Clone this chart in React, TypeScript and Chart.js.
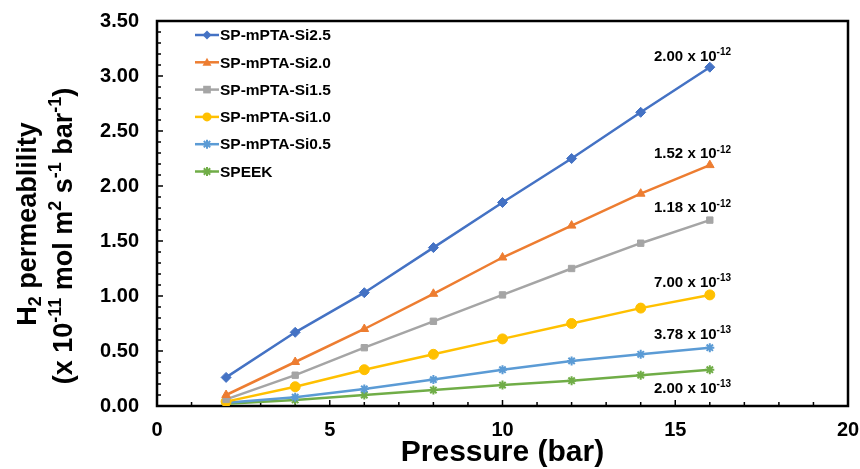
import React, { useEffect, useRef } from "react";
import { Chart, registerables } from "chart.js";

Chart.register(...registerables);

// ---------- data ----------
const pressures = [2, 4, 6, 8, 10, 12, 14, 16];
const si25 = [0.26, 0.67, 1.03, 1.44, 1.85, 2.25, 2.67, 3.08];
const si20 = [0.1, 0.4, 0.7, 1.02, 1.35, 1.64, 1.93, 2.19];
const si15 = [0.06, 0.28, 0.53, 0.77, 1.01, 1.25, 1.48, 1.69];
const si10 = [0.04, 0.175, 0.33, 0.47, 0.61, 0.75, 0.89, 1.01];
const si05 = [0.03, 0.08, 0.155, 0.24, 0.33, 0.41, 0.47, 0.53];
const speek = [0.02, 0.055, 0.1, 0.145, 0.19, 0.23, 0.28, 0.33];

const seriesNames = [
  "SP-mPTA-Si2.5",
  "SP-mPTA-Si2.0",
  "SP-mPTA-Si1.5",
  "SP-mPTA-Si1.0",
  "SP-mPTA-Si0.5",
  "SPEEK",
];
const seriesValues = [si25, si20, si15, si10, si05, speek];
const seriesColors = ["#4472C4", "#ED7D31", "#A5A5A5", "#FFC000", "#5B9BD5", "#70AD47"];
const seriesMarkers = ["rectRot", "triangle", "rect", "circle", "star", "star"];
const seriesMarkerRadius = [5, 5, 4.5, 5, 4.5, 4.5];

const annotationMantissa = ["2.00", "1.52", "1.18", "7.00", "3.78", "2.00"];
const annotationExponent = ["-12", "-12", "-12", "-13", "-13", "-13"];
const annotationYValue = [3.19, 2.3, 1.81, 1.13, 0.66, 0.17];
const annotationXValue = 15.5;

const xMin = 0, xMax = 20, xMajor = 5, xMinor = 1;
const yMin = 0, yMax = 3.5, yMajor = 0.5, yMinor = 0.1;

const xTitle = "Pressure (bar)";
type Part = { t: string; m: "n" | "sup" | "sub" };
const yTitleLine1: Part[] = [
  { t: "H", m: "n" },
  { t: "2", m: "sub" },
  { t: " permeablility", m: "n" },
];
const yTitleLine2: Part[] = [
  { t: "(x 10", m: "n" },
  { t: "-11", m: "sup" },
  { t: " mol m", m: "n" },
  { t: "2", m: "sup" },
  { t: " s", m: "n" },
  { t: "-1", m: "sup" },
  { t: " bar", m: "n" },
  { t: "-1", m: "sup" },
  { t: ")", m: "n" },
];

const FONT = "'Liberation Sans', Arial, Helvetica, sans-serif";

function drawRich(ctx: CanvasRenderingContext2D, parts: Part[], size: number, cx: number, cy: number, rot: number) {
  const small = Math.round(size * 0.65);
  const widths = parts.map((p) => {
    ctx.font = `bold ${p.m === "n" ? size : small}px ${FONT}`;
    return ctx.measureText(p.t).width;
  });
  const total = widths.reduce((a, b) => a + b, 0);
  ctx.save();
  ctx.translate(cx, cy);
  ctx.rotate(rot);
  ctx.textBaseline = "alphabetic";
  ctx.textAlign = "left";
  ctx.fillStyle = "#000";
  let x = -total / 2;
  const base = size * 0.36;
  parts.forEach((p, i) => {
    ctx.font = `bold ${p.m === "n" ? size : small}px ${FONT}`;
    let dy = 0;
    if (p.m === "sup") dy = -size * 0.38;
    if (p.m === "sub") dy = size * 0.2;
    ctx.fillText(p.t, x, base + dy);
    x += widths[i];
  });
  ctx.restore();
}

function drawMarker(ctx: CanvasRenderingContext2D, style: string, x: number, y: number, r: number, color: string) {
  ctx.save();
  ctx.fillStyle = color;
  ctx.strokeStyle = color;
  ctx.lineWidth = 2;
  ctx.beginPath();
  if (style === "rectRot") {
    ctx.moveTo(x, y - r);
    ctx.lineTo(x + r, y);
    ctx.lineTo(x, y + r);
    ctx.lineTo(x - r, y);
    ctx.closePath();
    ctx.fill();
  } else if (style === "triangle") {
    ctx.moveTo(x, y - r);
    ctx.lineTo(x + r, y + r * 0.75);
    ctx.lineTo(x - r, y + r * 0.75);
    ctx.closePath();
    ctx.fill();
  } else if (style === "rect") {
    ctx.rect(x - r * 0.85, y - r * 0.85, r * 1.7, r * 1.7);
    ctx.fill();
  } else if (style === "circle") {
    ctx.arc(x, y, r, 0, Math.PI * 2);
    ctx.fill();
  } else {
    for (let k = 0; k < 4; k++) {
      const a = (k * Math.PI) / 4;
      ctx.moveTo(x - Math.cos(a) * r, y - Math.sin(a) * r);
      ctx.lineTo(x + Math.cos(a) * r, y + Math.sin(a) * r);
    }
    ctx.stroke();
  }
  ctx.restore();
}

const decoPlugin = {
  id: "deco",
  beforeDatasetsDraw(chart: any) {
    const { ctx, chartArea, scales } = chart;
    const { left, right, top, bottom } = chartArea;
    const xs = scales.x, ys = scales.y;
    ctx.save();
    ctx.strokeStyle = "#000";
    ctx.lineWidth = 1.5;
    ctx.beginPath();
    const nx = Math.round((xMax - xMin) / xMinor);
    for (let i = 0; i <= nx; i++) {
      const v = xMin + i * xMinor;
      const px = xs.getPixelForValue(v);
      const len = Math.abs(v / xMajor - Math.round(v / xMajor)) < 1e-6 ? 6 : 4;
      ctx.moveTo(px, bottom);
      ctx.lineTo(px, bottom - len);
    }
    const ny = Math.round((yMax - yMin) / yMinor);
    for (let i = 0; i <= ny; i++) {
      const v = yMin + i * yMinor;
      const py = ys.getPixelForValue(v);
      const len = i % Math.round(yMajor / yMinor) === 0 ? 6 : 4;
      ctx.moveTo(left, py);
      ctx.lineTo(left + len, py);
    }
    ctx.stroke();
    ctx.lineWidth = 2.5;
    ctx.strokeRect(left, top, right - left, bottom - top);
    ctx.restore();
  },
  afterDraw(chart: any) {
    const { ctx, chartArea, scales } = chart;
    const { top } = chartArea;
    const xs = scales.x, ys = scales.y;
    // legend
    ctx.save();
    seriesNames.forEach((name, i) => {
      const y = top + 14 + i * 27.3;
      const color = seriesColors[i];
      ctx.strokeStyle = color;
      ctx.lineWidth = 2.5;
      ctx.beginPath();
      ctx.moveTo(195, y);
      ctx.lineTo(219, y);
      ctx.stroke();
      drawMarker(ctx, seriesMarkers[i], 207, y, 4.5, color);
      ctx.fillStyle = "#000";
      ctx.font = `bold 15.5px ${FONT}`;
      ctx.textAlign = "left";
      ctx.textBaseline = "middle";
      ctx.fillText(name, 220, y + 1);
    });
    ctx.restore();

    // annotations
    annotationMantissa.forEach((m, i) => {
      const cx = xs.getPixelForValue(annotationXValue);
      const cy = ys.getPixelForValue(annotationYValue[i]);
      drawRich(
        ctx,
        [
          { t: `${m} x 10`, m: "n" },
          { t: annotationExponent[i], m: "sup" },
        ],
        15,
        cx,
        cy,
        0
      );
    });

    // y title
    drawRich(ctx, yTitleLine1, 27, 26, 224, -Math.PI / 2);
    drawRich(ctx, yTitleLine2, 27, 62, 236, -Math.PI / 2);
  },
};

export default function App() {
  const ref = useRef<HTMLCanvasElement | null>(null);
  useEffect(() => {
    if (!ref.current) return;
    const chart = new Chart(ref.current, {
      type: "line",
      data: {
        datasets: seriesNames.map((name, i) => ({
          label: name,
          data: pressures.map((p, j) => ({ x: p, y: seriesValues[i][j] })),
          borderColor: seriesColors[i],
          backgroundColor: seriesColors[i],
          pointBackgroundColor: seriesColors[i],
          pointBorderColor: seriesColors[i],
          pointStyle: seriesMarkers[i] as any,
          pointRadius: seriesMarkerRadius[i],
          pointBorderWidth: seriesMarkers[i] === "star" ? 2 : 1,
          borderWidth: 2.5,
          fill: false,
          tension: 0,
        })),
      },
      options: {
        animation: false,
        responsive: false,
        events: [],
        layout: { padding: { top: 21, right: 12, left: 0, bottom: 0 } },
        plugins: {
          legend: { display: false },
          tooltip: { enabled: false },
        },
        scales: {
          x: {
            type: "linear",
            min: xMin,
            max: xMax,
            grid: { display: false, drawTicks: false },
            border: { display: false },
            ticks: {
              stepSize: xMajor,
              autoSkip: false,
              maxRotation: 0,
              padding: 12,
              color: "#000",
              font: { family: FONT, size: 20, weight: "bold" },
            },
            title: {
              display: true,
              text: xTitle,
              color: "#000",
              font: { family: FONT, size: 30, weight: "bold", lineHeight: 1 },
              padding: { top: 0, bottom: 1 },
            },
            afterFit: (s: any) => {
              s.height = 63;
              s.paddingLeft = 0;
              s.paddingRight = 0;
            },
          },
          y: {
            type: "linear",
            min: yMin,
            max: yMax,
            grid: { display: false, drawTicks: false },
            border: { display: false },
            ticks: {
              stepSize: yMajor,
              autoSkip: false,
              padding: 18,
              color: "#000",
              font: { family: FONT, size: 20, weight: "bold" },
              callback: (v: any) => Number(v).toFixed(2),
            },
            afterFit: (s: any) => {
              s.width = 157;
              s.paddingTop = 0;
              s.paddingBottom = 0;
            },
          },
        },
      },
      plugins: [decoPlugin],
    });
    return () => chart.destroy();
  }, []);
  return (
    <div style={{ position: "absolute", left: 0, top: 0, width: 860, height: 469, background: "#fff" }}>
      <canvas ref={ref} width={860} height={469} />
    </div>
  );
}
